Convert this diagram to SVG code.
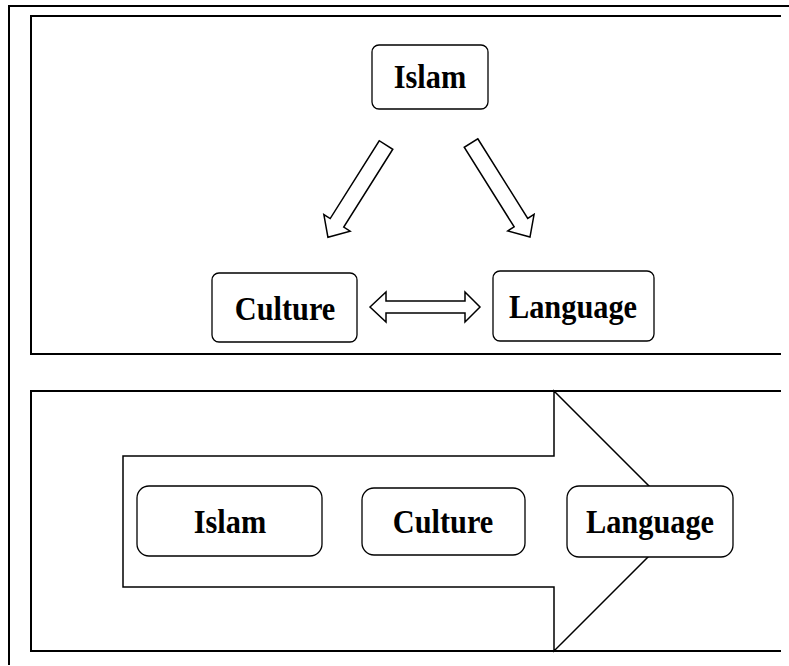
<svg xmlns="http://www.w3.org/2000/svg" width="789" height="666" viewBox="0 0 789 666">
<style>
.frame{fill:none;stroke:#000;stroke-width:2}
.box{fill:#fff;stroke:#000;stroke-width:1.3}
.arrow{fill:#fff;stroke:#000;stroke-width:1.5;stroke-linejoin:miter}
.lbl{font-family:"Liberation Serif","Times New Roman",serif;font-weight:bold;font-size:33px;fill:#000;text-anchor:middle}
</style>
<rect width="789" height="666" fill="#fff"/>
<g id="frames">
<path class="frame" d="M789,6 H9 V665"/>
<path class="frame" d="M781,16 H31 V354 H781"/>
<path class="frame" d="M781,391 H31 V651 H781"/>
</g>
<g id="connectors">
<polygon class="arrow" transform="translate(386,145) rotate(122.2)" points="0,-8 92,-8 92,-15.5 109,0 92,15.5 92,8 0,8"/>
<polygon class="arrow" transform="translate(471,143) rotate(57.9)" points="0,-8 94,-8 94,-15.5 111,0 94,15.5 94,8 0,8"/>
<path class="arrow" d="M370,307 L386,292 L386,301 L465,301 L465,292 L480,307 L465,322 L465,313 L386,313 L386,322 Z"/>
<polygon class="arrow" points="123,456 554,456 554,391 684,521 554,651 554,587 123,587"/>
</g>
<g id="node-islam-top">
<rect class="box" x="372" y="45" width="116" height="64" rx="7"/>
<text class="lbl" transform="translate(430,88) scale(0.92,1)">Islam</text>
</g>
<g id="node-culture-top">
<rect class="box" x="212" y="273" width="145" height="69" rx="7"/>
<text class="lbl" transform="translate(285,320) scale(0.92,1)">Culture</text>
</g>
<g id="node-language-top">
<rect class="box" x="493" y="271" width="161" height="70" rx="7"/>
<text class="lbl" transform="translate(573,318) scale(0.92,1)">Language</text>
</g>
<g id="node-islam-bottom">
<rect class="box" x="137" y="486" width="185" height="70" rx="12"/>
<text class="lbl" transform="translate(230,533) scale(0.92,1)">Islam</text>
</g>
<g id="node-culture-bottom">
<rect class="box" x="362" y="488" width="163" height="67" rx="12"/>
<text class="lbl" transform="translate(443,533) scale(0.92,1)">Culture</text>
</g>
<g id="node-language-bottom">
<rect class="box" x="567" y="486" width="166" height="71" rx="12"/>
<text class="lbl" transform="translate(650,533) scale(0.92,1)">Language</text>
</g>
</svg>
